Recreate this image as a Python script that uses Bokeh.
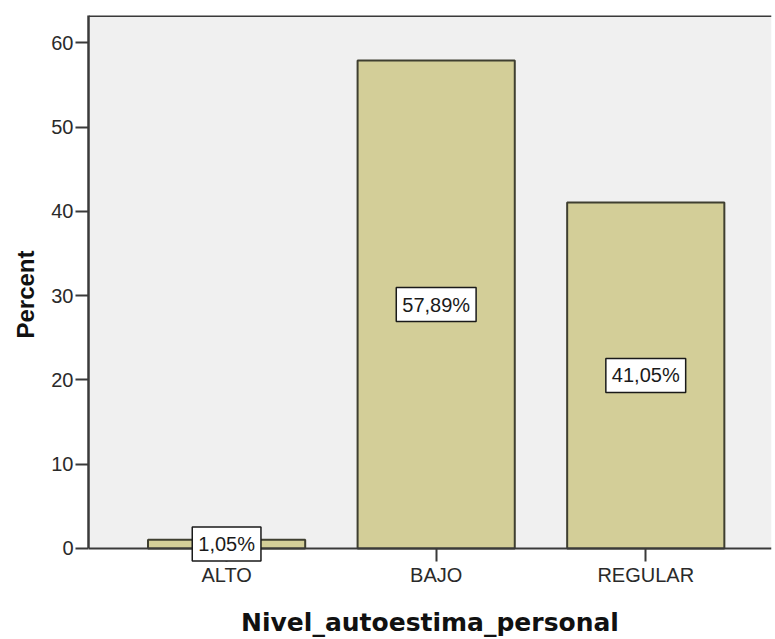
from bokeh.plotting import figure
from bokeh.models import ColumnDataSource, FixedTicker, Span, Label, BoxAnnotation, Title
from bokeh.embed import file_html
from bokeh.resources import INLINE

categories = ["ALTO", "BAJO", "REGULAR"]
percents = [1.05, 57.89, 41.05]
labels = ["1,05%", "57,89%", "41,05%"]
y_ticks = [0, 10, 20, 30, 40, 50, 60]

xs = list(range(len(categories)))
source = ColumnDataSource(dict(
    x=xs,
    top=percents,
))

Y_END = 63.24
Y_START = -10.8
p = figure(width=775, height=639, output_backend="svg", toolbar_location=None,
           x_range=(-0.659, 2.60), y_range=(Y_START, Y_END),
           min_border_left=88, min_border_top=15, min_border_bottom=0,
           min_border_right=4)
p.background_fill_color = "white"
p.border_fill_color = "white"
p.outline_line_color = None
p.grid.visible = False

p.add_layout(BoxAnnotation(bottom=0, fill_color="#f0f0f0", fill_alpha=1,
                           line_color=None, level="underlay"))
p.add_layout(Span(location=Y_END, dimension="width", line_color="#3a3a3a",
                  line_width=3))

p.vbar(x="x", top="top", bottom=0, width=0.75, source=source,
       fill_color="#d3ce98", line_color="#3f3f30", line_width=2)

for xi, v, t in zip(xs, percents, labels):
    p.add_layout(Label(x=xi, y=v / 2, text=t, level="overlay",
                       text_align="center", text_baseline="middle",
                       text_font="Liberation Sans", text_font_size="20px",
                       text_color="#1a1a1a",
                       background_fill_color="white",
                       border_line_color="#1a1a1a",
                       border_line_width=1.5, padding=6))

# Y axis title (side title, anchored from the top of the plotted area)
p.add_layout(Title(text="Percent", align="right", offset=235,
                   text_font="Liberation Sans", text_font_style="bold",
                   text_font_size="24px", text_color="#111111",
                   standoff=19), "left")

ya = p.yaxis[0]
ya.ticker = FixedTicker(ticks=y_ticks)
ya.bounds = (0, Y_END)
ya.major_label_text_font = "Liberation Sans"
ya.major_label_text_font_size = "20px"
ya.major_label_text_color = "#2a2a2a"
ya.major_label_standoff = 2
ya.major_tick_out = 13
ya.major_tick_in = 0
ya.minor_tick_line_color = None
ya.axis_line_color = "#3a3a3a"
ya.axis_line_width = 2.5
ya.major_tick_line_color = "#3a3a3a"
ya.major_tick_line_width = 2

# X axis, fixed at zero so the value boxes may overlap it
xa = p.xaxis[0]
xa.fixed_location = 0
xa.ticker = FixedTicker(ticks=xs)
xa.major_label_overrides = {i: c for i, c in zip(xs, categories)}
xa.axis_label = "Nivel_autoestima_personal"
xa.axis_label_text_font = "DejaVu Sans"
xa.axis_label_text_font_style = "bold"
xa.axis_label_text_font_size = "25px"
xa.axis_label_text_color = "#111111"
xa.axis_label_standoff = 18
xa.major_label_text_font = "Liberation Sans"
xa.major_label_text_font_size = "20px"
xa.major_label_text_color = "#2a2a2a"
xa.major_label_standoff = 3
xa.major_tick_out = 13
xa.major_tick_in = 0
xa.minor_tick_line_color = None
xa.axis_line_color = "#3a3a3a"
xa.axis_line_width = 2
xa.major_tick_line_color = "#3a3a3a"
xa.major_tick_line_width = 2

open("out.html", "w").write(file_html(p, INLINE))
